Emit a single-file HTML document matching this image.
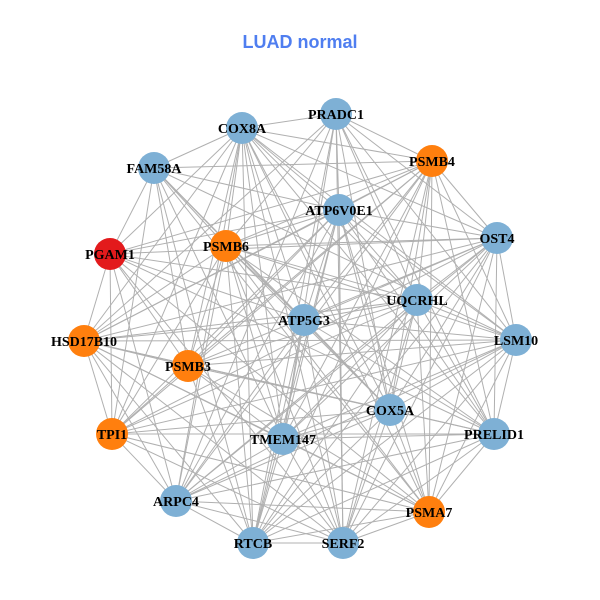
<!DOCTYPE html>
<html><head><meta charset="utf-8"><style>
html,body{margin:0;padding:0;background:#fff;width:600px;height:600px;overflow:hidden}
</style></head><body>
<svg id="g" width="600" height="600" xmlns="http://www.w3.org/2000/svg">
<rect width="600" height="600" fill="#fff"/>
<text x="300" y="48" text-anchor="middle" font-family="Liberation Sans, sans-serif" font-weight="bold" font-size="18" fill="#4f7ef0">LUAD normal</text>
<g id="edges" stroke="#b0b0b0" stroke-width="1"></g>
<g id="nodes"></g>
</svg>
<script>
var N=[["PRADC1",336,114,"b"],["COX8A",242,128,"b"],["PSMB4",432,161,"o"],["FAM58A",154,168,"b"],["ATP6V0E1",339,210,"b"],["OST4",497,238,"b"],["PGAM1",110,254,"r"],["PSMB6",226,246,"o"],["UQCRHL",417,300,"b"],["ATP5G3",304,320,"b"],["LSM10",516,340,"b"],["HSD17B10",84,341,"o"],["PSMB3",188,366,"o"],["COX5A",390,410,"b"],["PRELID1",494,434,"b"],["TPI1",112,434,"o"],["TMEM147",283,439,"b"],["ARPC4",176,501,"b"],["PSMA7",429,512,"o"],["RTCB",253,543,"b"],["SERF2",343,543,"b"]];
var C={b:"#7eb0d5",o:"#ff7f0e",r:"#e31a1c"};
var ns="http://www.w3.org/2000/svg",E=document.getElementById("edges"),G=document.getElementById("nodes");
for(var i=0;i<N.length;i++)for(var j=i+1;j<N.length;j++){
 if((i*7+j*3)%9==0)continue;
 var l=document.createElementNS(ns,"line");
 l.setAttribute("x1",N[i][1]);l.setAttribute("y1",N[i][2]);l.setAttribute("x2",N[j][1]);l.setAttribute("y2",N[j][2]);E.appendChild(l);}
N.forEach(function(n){
 var c=document.createElementNS(ns,"circle");c.setAttribute("cx",n[1]);c.setAttribute("cy",n[2]);c.setAttribute("r",16);c.setAttribute("fill",C[n[3]]);G.appendChild(c);});
N.forEach(function(n){
 var t=document.createElementNS(ns,"text");t.setAttribute("x",n[1]);t.setAttribute("y",n[2]+5);t.setAttribute("text-anchor","middle");
 t.setAttribute("font-family","Liberation Serif, serif");t.setAttribute("font-weight","bold");t.setAttribute("font-size","14");t.textContent=n[0];G.appendChild(t);});
</script>
</body></html>
